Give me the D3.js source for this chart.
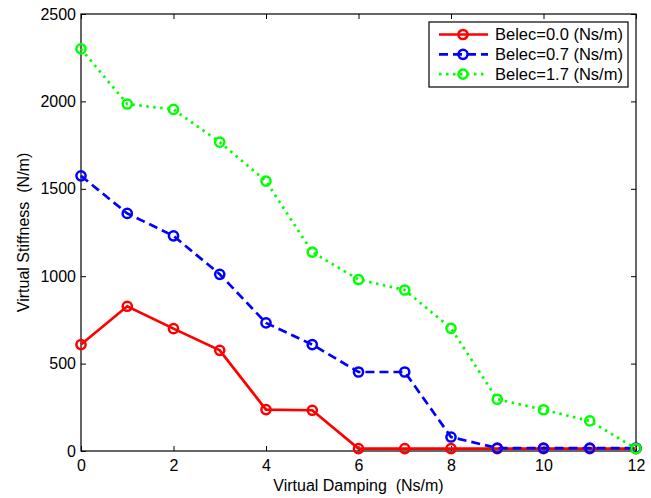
<!DOCTYPE html>
<html>
<head>
<meta charset="utf-8">
<script src="https://cdn.jsdelivr.net/npm/d3@7"></script>
<style>
  body { margin: 0; background: #fff; }
  text { font-family: "Liberation Sans", Arial, sans-serif; }
</style>
</head>
<body>
<div id="chart-container"></div>
<script>
const damping = [0, 1, 2, 3, 4, 5, 6, 7, 8, 9, 10, 11, 12];
const belec00 = [609, 828, 700, 576, 237, 233, 14, 14, 14, 14, 14, 14, 14];
const belec07 = [1574, 1359, 1231, 1011, 733, 609, 452, 452, 80, 17, 17, 17, 17];
const belec17 = [2300, 1985, 1954, 1767, 1544, 1138, 981, 921, 702, 296, 236, 172, 14];
const seriesNames = ["Belec=0.0 (Ns/m)", "Belec=0.7 (Ns/m)", "Belec=1.7 (Ns/m)"];
const xTicks = [0, 2, 4, 6, 8, 10, 12];
const yTicks = [0, 500, 1000, 1500, 2000, 2500];

const margin = { top: 14, right: 15, bottom: 47, left: 81 };
const width = 651 - margin.left - margin.right;
const height = 498 - margin.top - margin.bottom;

const series = [
    { name: seriesNames[0], values: belec00, color: "#ff0000", dash: null },
    { name: seriesNames[1], values: belec07, color: "#0000ff", dash: "9,5" },
    { name: seriesNames[2], values: belec17, color: "#00ff00", dash: "2.5,4.5" }
];

var svg = d3.select("#chart-container")
    .append("svg")
    .attr("width", 651)
    .attr("height", 498)
    .append("g")
    .attr("transform", `translate(${margin.left}, ${margin.top})`);

var xScale = d3.scaleLinear().domain([0, 12]).range([0, width]);
var yScale = d3.scaleLinear().domain([0, 2500]).range([height, 0]);

// Axes with inward ticks
svg.append("g")
    .attr("transform", `translate(0, ${height})`)
    .call(d3.axisBottom(xScale).tickValues(xTicks).tickFormat(d3.format("d"))
        .tickSizeInner(-5).tickSizeOuter(0).tickPadding(9))
    .call(g => g.select(".domain").remove())
    .style("font-size", "16px");

svg.append("g")
    .call(d3.axisLeft(yScale).tickValues(yTicks).tickFormat(d3.format("d"))
        .tickSizeInner(-5).tickSizeOuter(0).tickPadding(5))
    .call(g => g.select(".domain").remove())
    .style("font-size", "16px");

svg.append("g")
    .call(d3.axisTop(xScale).tickValues(xTicks).tickSizeInner(-5).tickSizeOuter(0).tickFormat(""))
    .call(g => g.select(".domain").remove());

svg.append("g")
    .attr("transform", `translate(${width}, 0)`)
    .call(d3.axisRight(yScale).tickValues(yTicks).tickSizeInner(-5).tickSizeOuter(0).tickFormat(""))
    .call(g => g.select(".domain").remove());

svg.selectAll(".tick text").attr("fill", "#000").style("font-family", "'Liberation Sans', Arial, sans-serif");

// Box
svg.append("rect")
    .attr("width", width)
    .attr("height", height)
    .attr("fill", "none")
    .attr("stroke", "#000")
    .attr("stroke-width", 1.2);

// Axis labels
svg.append("text")
    .attr("x", width / 2)
    .attr("y", height + 40)
    .attr("text-anchor", "middle")
    .style("font-size", "16px")
    .style("white-space", "pre")
    .text("Virtual Damping  (Ns/m)");

svg.append("text")
    .attr("transform", "rotate(-90)")
    .attr("x", -height / 2)
    .attr("y", -52)
    .attr("text-anchor", "middle")
    .style("font-size", "16px")
    .style("white-space", "pre")
    .text("Virtual Stiffness  (N/m)");

// Lines and markers
var line = d3.line()
    .x((d, i) => xScale(damping[i]))
    .y(d => yScale(d));

series.forEach(s => {
    svg.append("path")
        .datum(s.values)
        .attr("fill", "none")
        .attr("stroke", s.color)
        .attr("stroke-width", 2.7)
        .attr("stroke-dasharray", s.dash)
        .attr("d", line);

    svg.append("g")
        .selectAll("circle")
        .data(s.values)
        .join("circle")
        .attr("cx", (d, i) => xScale(damping[i]))
        .attr("cy", d => yScale(d))
        .attr("r", 4.6)
        .attr("fill", "none")
        .attr("stroke", s.color)
        .attr("stroke-width", 2.5);
});

// Legend
var legend = svg.append("g")
    .attr("transform", `translate(${429 - margin.left}, ${22 - margin.top})`);

legend.append("rect")
    .attr("width", 199)
    .attr("height", 65)
    .attr("fill", "#fff")
    .attr("stroke", "#000")
    .attr("stroke-width", 1.2);

series.forEach((s, i) => {
    var row = legend.append("g").attr("transform", `translate(0, ${12.5 + i * 19.8})`);
    row.append("line")
        .attr("x1", 10).attr("x2", 59)
        .attr("stroke", s.color)
        .attr("stroke-width", 2.7)
        .attr("stroke-dasharray", s.dash);
    row.append("circle")
        .attr("cx", 34).attr("r", 4.6)
        .attr("fill", "none")
        .attr("stroke", s.color)
        .attr("stroke-width", 2.5);
    row.append("text")
        .attr("x", 66)
        .attr("dy", "0.35em")
        .style("font-size", "16.5px")
        .text(s.name);
});
</script>
</body>
</html>
